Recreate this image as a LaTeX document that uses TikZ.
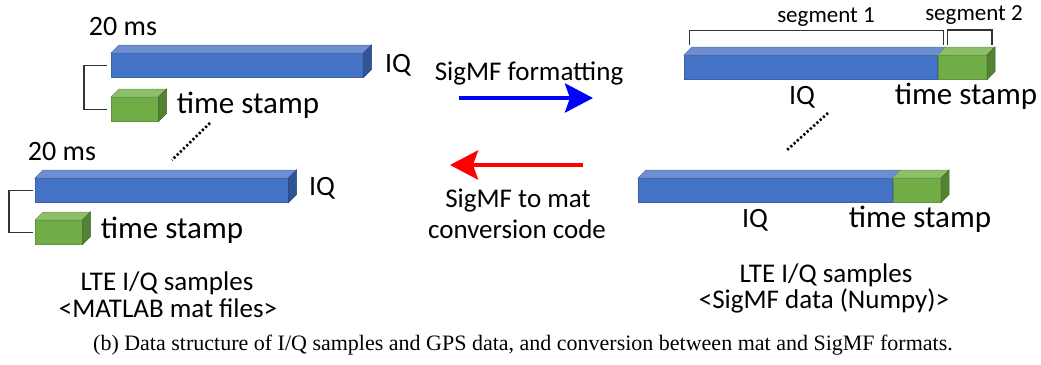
\documentclass[tikz,border=0pt]{standalone}
\usepackage{fontspec}
\setmainfont{Carlito}
\newfontfamily\capfont{Liberation Serif}
\usetikzlibrary{arrows.meta,calc}

\definecolor{iqfront}{HTML}{4472C4}
\definecolor{iqtop}{HTML}{6D8FD2}
\definecolor{iqside}{HTML}{2F5597}
\definecolor{tsfront}{HTML}{70AD47}
\definecolor{tstop}{HTML}{8DBF69}
\definecolor{tsside}{HTML}{548235}

% top and side face of a bar, drawn from the front face node
\newcommand{\topface}[2]{\filldraw[fill=#2, draw=#2!80!black, line width=0.5pt] (#1.north west) -- ++(8,-8) -- ($(#1.north east)+(8,-8)$) -- (#1.north east) -- cycle;}
\newcommand{\sideface}[2]{\filldraw[fill=#2, draw=#2!80!black, line width=0.5pt] (#1.north east) -- ++(8,-8) -- ($(#1.south east)+(8,-8)$) -- (#1.south east) -- cycle;}

\begin{document}
\begin{tikzpicture}
	[
		x=1pt, y=-1pt,
		face/.style = {shape=rectangle, inner sep=0pt, anchor=north west, minimum height=24pt, line width=0.5pt},
		iqface/.style = {face, fill=iqfront, draw=iqfront!85!black},
		tsface/.style = {face, fill=tsfront, draw=tsfront!85!black},
		lbl/.style = {font=\fontsize{28}{32}\selectfont, inner sep=0pt, anchor=base},
		tslbl/.style = {font=\fontsize{31}{35}\selectfont, inner sep=0pt, anchor=base},
		smalllbl/.style = {font=\fontsize{23}{26}\selectfont, inner sep=0pt, anchor=base},
		arrowlbl/.style = {font=\fontsize{27}{31}\selectfont, inner sep=0pt, anchor=base},
		filelbl/.style = {font=\fontsize{27}{31}\selectfont, inner sep=0pt, anchor=base},
		bracket/.style = {draw=black!80, line width=1.3pt},
		dots/.style = {line width=2.6pt, dash pattern=on 2.2pt off 2.2pt},
		conv/.style = {line width=4.5pt, -{Stealth[length=28pt, width=29pt, inset=5pt]}}
	]
	
	\useasboundingbox (0,0) rectangle (1041,364);
	
	% mat files, first frame
	\def\x{111}
	\def\y{53}
	
	\node [iqface, minimum width=252pt] (iqA) at (\x, \y) {};
	\topface{iqA}{iqtop}
	\sideface{iqA}{iqside}
	\node [tsface, minimum width=47pt] (tsA) at (\x, {\y + 44}) {};
	\topface{tsA}{tstop}
	\sideface{tsA}{tsside}
	
	\node [lbl] (msA) at ({\x + 12}, {\y - 18}) {20 ms};
	\node [lbl] (iqlblA) at ({\x + 287}, {\y + 19}) {IQ};
	\node [tslbl] (tslblA) at ({\x + 137}, {\y + 60}) {time stamp};
	
	\draw [bracket] ([xshift=-4pt]iqA.west) -- ++(-23, 0) |- ([xshift=-4pt]tsA.west);
	
	% mat files, next frame
	\def\x{35}
	\def\y{178}
	
	\node [iqface, minimum width=253pt] (iqB) at (\x, \y) {};
	\topface{iqB}{iqtop}
	\sideface{iqB}{iqside}
	\node [tsface, minimum width=47pt] (tsB) at (\x, {\y + 42}) {};
	\topface{tsB}{tstop}
	\sideface{tsB}{tsside}
	
	\node [lbl] (msB) at ({\x + 27}, {\y - 18}) {20 ms};
	\node [lbl] (iqlblB) at ({\x + 287}, {\y + 17}) {IQ};
	\node [tslbl] (tslblB) at ({\x + 137}, {\y + 60}) {time stamp};
	
	\draw [bracket] ([xshift=-2pt]iqB.west) -- ++(-24, 0) |- ([xshift=-2pt]tsB.west);
	
	\coordinate (dotAs) at (210, 123);
	\coordinate (dotAe) at (172, 160);
	\draw [dots] (dotAs) -- (dotAe);
	
	% SigMF data, first segment pair
	\node [iqface, minimum width=253pt] (iqC) at (684, 55) {};
	\topface{iqC}{iqtop}
	\node [tsface, minimum width=49pt] (tsC) at (iqC.north east) {};
	\topface{tsC}{tstop}
	\sideface{tsC}{tsside}
	
	\node [lbl] (iqlblC) at (802, 104) {IQ};
	\node [tslbl] (tslblC) at (966, 104) {time stamp};
	
	\draw [bracket, line width=1pt] ($(iqC.north west)+(5,-10)$) -- ++(0,-15) -| ($(iqC.north east)+(6,-10)$);
	\draw [bracket, line width=1.6pt] ($(tsC.north west)+(10,-10)$) -- ++(0,-15) -| ($(tsC.north east)+(5,-10)$);
	\node [smalllbl] (segA) at (826, 22) {segment 1};
	\node [smalllbl] (segB) at (974, 20) {segment 2};
	
	% SigMF data, next segment pair
	\node [iqface, minimum width=254pt] (iqD) at (638, 178) {};
	\topface{iqD}{iqtop}
	\node [tsface, minimum width=48pt] (tsD) at (iqD.north east) {};
	\topface{tsD}{tstop}
	\sideface{tsD}{tsside}
	
	\node [lbl] (iqlblD) at (755, 227) {IQ};
	\node [tslbl] (tslblD) at (920, 227) {time stamp};
	
	\coordinate (dotBs) at (828, 113);
	\coordinate (dotBe) at (787, 150);
	\draw [dots] (dotBs) -- (dotBe);
	
	% conversions
	\node [arrowlbl] (fmt) at (529, 80) {SigMF formatting};
	\coordinate (fwdS) at (459, 98);
	\coordinate (fwdE) at (593, 98);
	\draw [conv, blue] (fwdS) -- (fwdE);
	
	\coordinate (bwdS) at (583, 165);
	\coordinate (bwdE) at (450, 165);
	\draw [conv, red] (bwdS) -- (bwdE);
	\node [arrowlbl] (toMat) at (518, 207) {SigMF to mat};
	\node [arrowlbl] (code) at (517, 238) {conversion code};
	
	% file types
	\node [filelbl] (matA) at (167, 290) {LTE I/Q samples};
	\node [filelbl] (matB) at (168, 317) {<MATLAB mat files>};
	\node [filelbl] (sigA) at (826, 282) {LTE I/Q samples};
	\node [filelbl] (sigB) at (824, 308) {<SigMF data (Numpy)>};
	
	\node [inner sep=0pt, anchor=base, font=\capfont\fontsize{22}{26}\selectfont] (cap) at (523, 350)
		{(b) Data structure of I/Q samples and GPS data, and conversion between mat and SigMF formats.};
	
\end{tikzpicture}
\end{document}
